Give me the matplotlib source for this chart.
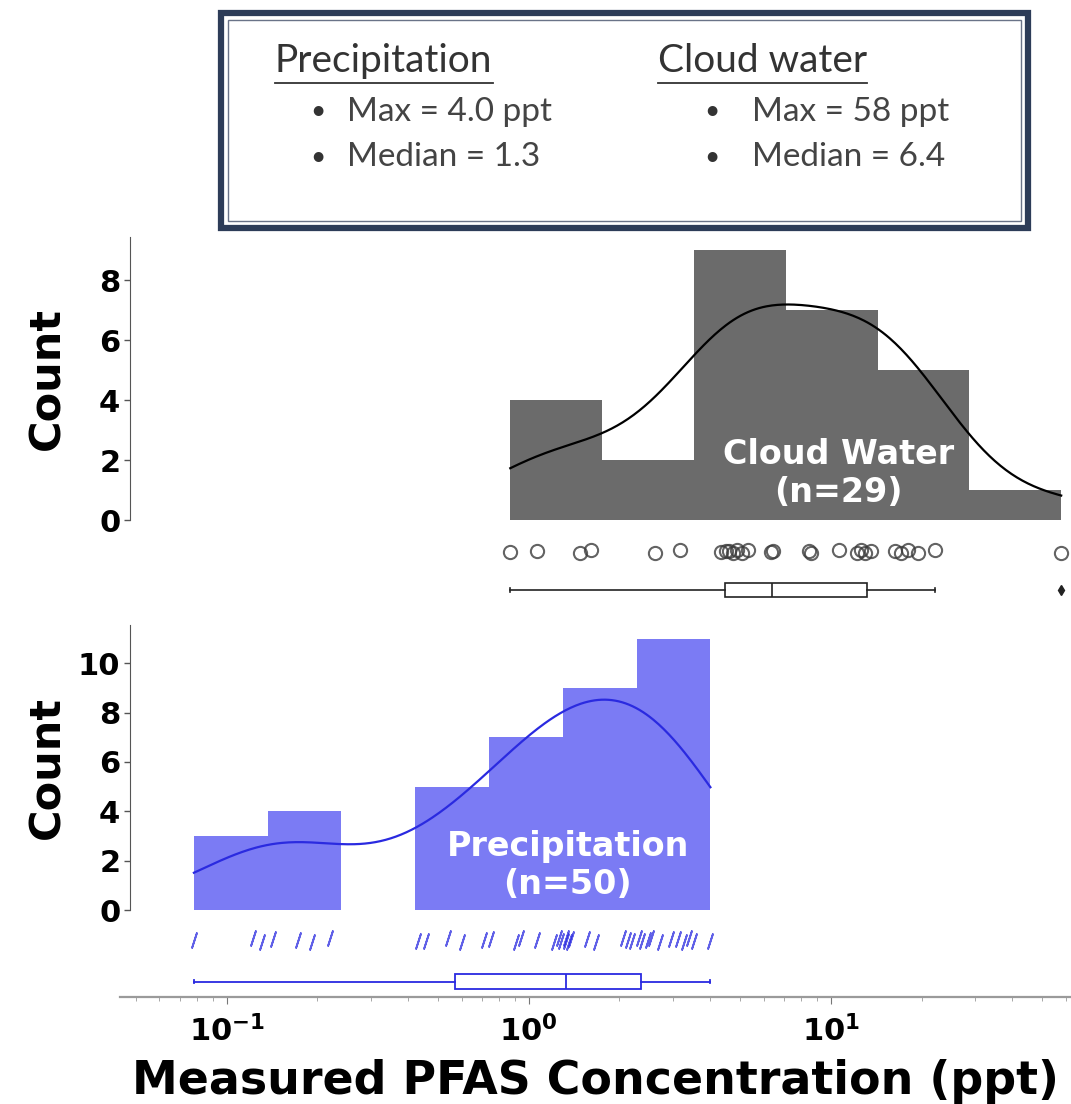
import numpy as np
import matplotlib
matplotlib.use('Agg')
import matplotlib.pyplot as plt
from matplotlib.patches import Rectangle
from matplotlib.lines import Line2D
from matplotlib.ticker import FuncFormatter, LogLocator, NullFormatter

# PFAS concentrations (ppt)
cloud_water = [0.87, 1.07, 1.48, 1.61, 2.62, 3.17, 4.35, 4.5, 4.61, 4.75, 4.9,
               5.1, 5.33, 6.33, 6.47, 8.5, 8.6, 10.7, 12.2, 12.6, 13.0, 13.6,
               16.3, 17.1, 18.0, 19.5, 22.2, 58.0]
precipitation = [0.078, 0.122, 0.131, 0.142, 0.172, 0.192, 0.220, 0.429, 0.457,
                 0.541, 0.602, 0.710, 0.750, 0.906, 0.944, 1.07, 1.21, 1.26,
                 1.28, 1.327, 1.33, 1.36, 1.38, 1.56, 1.67, 2.05, 2.13, 2.20,
                 2.32, 2.38, 2.49, 2.54, 2.72, 2.96, 3.12, 3.26, 3.40, 3.53, 4.0]
cloud_n = 29
precip_n = 50
cloud_bins = 6
precip_bins = 7

CW_COLOR = '#6b6b6b'
PR_COLOR = '#7b7bf4'
PR_LINE = '#2a2ae0'
XLIM = (0.0444, 62.5)

W, H = 1071, 1104
fig = plt.figure(figsize=(W / 100, H / 100), dpi=100)


def fx(px):
    return px / W


def fy(px):
    return 1 - px / H


def axes_px(top, bottom, left=120, right=1071):
    ax = fig.add_axes([fx(left), fy(bottom), fx(right) - fx(left), fy(top) - fy(bottom)])
    ax.set_xscale('log')
    ax.set_xlim(*XLIM)
    return ax


def kde_counts(vals, edges):
    lv = np.log10(vals)
    bw = lv.std(ddof=1) * len(lv) ** (-1 / 5)
    grid = np.linspace(lv.min(), lv.max(), 300)
    dens = np.exp(-0.5 * ((grid[:, None] - lv[None, :]) / bw) ** 2).sum(1)
    dens /= len(lv) * bw * np.sqrt(2 * np.pi)
    width = np.diff(np.log10(edges)).mean()
    return 10 ** grid, dens * len(lv) * width


def hist_panel(ax, vals, nbins, color, line_color, label, ymax, yticks, text_xy):
    vals = np.asarray(vals)
    edges = np.logspace(np.log10(vals.min()), np.log10(vals.max()), nbins + 1)
    ax.hist(vals, bins=edges, color=color, edgecolor='none')
    xs, ys = kde_counts(vals, edges)
    ax.plot(xs, ys, color=line_color, lw=1.6)
    ax.set_xlim(*XLIM)
    ax.set_ylim(0, ymax)
    ax.set_yticks(yticks)
    for s in ['top', 'right', 'bottom']:
        ax.spines[s].set_visible(False)
    ax.spines['left'].set_position(('axes', 10 / 951))
    ax.spines['left'].set_color('#555555')
    ax.tick_params(axis='x', which='both', bottom=False, labelbottom=False)
    ax.tick_params(axis='y', length=4, width=1, color='#555555', labelsize=22, pad=3)
    for t in ax.get_yticklabels():
        t.set_fontweight('bold')
    ax.set_ylabel('Count', fontsize=31, fontweight='bold')
    ax.yaxis.set_label_coords(-52 / 951, 0.5)
    ax.text(text_xy[0], text_xy[1], label, color='white', fontsize=24,
            fontweight='bold', ha='center', va='center', linespacing=1.2)
    ax.set_facecolor('none')


def blank(ax):
    for s in ax.spines.values():
        s.set_visible(False)
    ax.tick_params(axis='both', which='both', bottom=False, left=False,
                   labelbottom=False, labelleft=False)
    ax.set_ylim(-0.5, 0.5)
    ax.set_xlim(*XLIM)
    ax.set_facecolor('none')


def box_panel(ax, vals, color, lw):
    ax.boxplot(vals, vert=False, positions=[0], widths=0.5, whis=1.5,
               patch_artist=True,
               boxprops=dict(facecolor='white', edgecolor=color, linewidth=lw),
               medianprops=dict(color=color, linewidth=lw),
               whiskerprops=dict(color=color, linewidth=lw),
               capprops=dict(color=color, linewidth=lw),
               capwidths=0.12,
               flierprops=dict(marker='d', markerfacecolor=color,
                               markeredgecolor=color, markersize=5))
    blank(ax)


ax_cw = axes_px(237, 520)
ax_cws = axes_px(533, 570)
ax_cwb = axes_px(576, 604)
ax_pr = axes_px(625, 910)
ax_prs = axes_px(922, 958)
ax_pbox = axes_px(966, 997)

hist_panel(ax_cw, cloud_water, cloud_bins, CW_COLOR, 'black',
           'Cloud Water\n(n=%d)' % cloud_n, 9.45, [0, 2, 4, 6, 8], (10.6, 1.55))
hist_panel(ax_pr, precipitation, precip_bins, PR_COLOR, PR_LINE,
           'Precipitation\n(n=%d)' % precip_n, 11.55, [0, 2, 4, 6, 8, 10], (1.35, 1.8))

# individual samples under each histogram
jit_c = 0.05 * np.sin(np.arange(len(cloud_water)) * 2.7)
ax_cws.plot(cloud_water, jit_c, ls='none', marker='o', ms=9.5,
            mfc='none', mec='#3c3c3c', mew=1.5, alpha=0.8)
blank(ax_cws)

jit_p = 0.06 * np.sin(np.arange(len(precipitation)) * 2.3)
ax_prs.plot(precipitation, jit_p, ls='none', marker=(2, 2, -18), ms=12,
            mec=PR_LINE, mew=1.3, alpha=0.75)
blank(ax_prs)

box_panel(ax_cwb, cloud_water, '#222222', 1.2)
box_panel(ax_pbox, precipitation, PR_LINE, 1.3)

# shared log x axis at the bottom
ax_pbox.spines['bottom'].set_visible(True)
ax_pbox.spines['bottom'].set_color('#9a9a9a')
ax_pbox.spines['bottom'].set_linewidth(1.6)
ax_pbox.xaxis.set_major_locator(LogLocator(base=10))
ax_pbox.xaxis.set_minor_locator(LogLocator(base=10, subs=np.arange(2, 10)))
ax_pbox.xaxis.set_minor_formatter(NullFormatter())
ax_pbox.xaxis.set_major_formatter(
    FuncFormatter(lambda v, p: r'$\mathbf{10^{%d}}$' % round(np.log10(v))))
ax_pbox.tick_params(axis='x', which='major', bottom=True, labelbottom=True,
                    length=5, color='#777777', labelsize=22, pad=8)
ax_pbox.tick_params(axis='x', which='minor', bottom=True, length=3, color='#999999')
ax_pbox.set_xlabel('Measured PFAS Concentration (ppt)', fontsize=33,
                   fontweight='bold', labelpad=8)

# summary box
box_font = ['Lato', 'Liberation Sans', 'DejaVu Sans']
fig.patches.append(Rectangle((fx(221), fy(228)), fx(1028) - fx(221), fy(13) - fy(228),
                             transform=fig.transFigure, facecolor='white',
                             edgecolor='#2d3c58', linewidth=4.5))
fig.patches.append(Rectangle((fx(228), fy(221)), fx(1021) - fx(228), fy(20) - fy(221),
                             transform=fig.transFigure, facecolor='none',
                             edgecolor='#6a7388', linewidth=1.0))

p = np.asarray(precipitation)
c = np.asarray(cloud_water)
columns = [
    (275, 318, 347, 'Precipitation', ['Max = %.1f ppt' % p.max(), 'Median = %.1f' % np.median(p)]),
    (658, 712, 752, 'Cloud water', ['Max = %.0f ppt' % c.max(), 'Median = %.1f' % np.median(c)]),
]
for x_head, x_bul, x_item, head, items in columns:
    t = fig.text(fx(x_head), fy(61), head, family=box_font, fontsize=28,
                 color='#333333', va='center', ha='left')
    fig.canvas.draw()
    bb = t.get_window_extent()
    fig.add_artist(Line2D([bb.x0 / W, bb.x1 / W], [fy(83), fy(83)],
                          transform=fig.transFigure, color='#333333', lw=1.3))
    for yy, txt in zip([112, 157], items):
        fig.text(fx(x_bul), fy(yy), '\u2022', family=box_font, fontsize=19,
                 color='#333333', va='center', ha='center')
        fig.text(fx(x_item), fy(yy), txt, family=box_font, fontsize=24,
                 color='#444444', va='center', ha='left')

fig.savefig('out.png', dpi=100, facecolor='white')
